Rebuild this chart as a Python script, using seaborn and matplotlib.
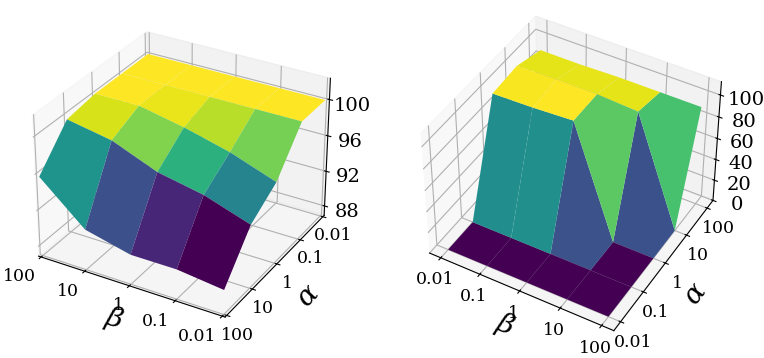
import numpy as np
import matplotlib
matplotlib.use("Agg")
import matplotlib.pyplot as plt
import seaborn as sns

sns.reset_orig()
plt.rcParams['font.family'] = ['DejaVu Serif']
plt.rcParams['mathtext.fontset'] = 'dejavuserif'
cmap = sns.color_palette("viridis", as_cmap=True)

left_beta = ['100', '10', '1', '0.1', '0.01']
left_alpha = ['100', '10', '1', '0.1', '0.01']
left_ticks_z = [88, 92, 96, 100]
left_z = [
    [95.7, 91.4, 90.2, 90.2, 89.6],
    [99.5, 98.6, 96.6, 95.6, 93.9],
    [100.0, 100.0, 99.0, 97.7, 95.9],
    [100.0, 100.0, 100.0, 100.0, 100.0],
    [100.0, 100.0, 100.0, 100.0, 100.0],
]
right_beta = ['0.01', '0.1', '1', '10', '100']
right_alpha = ['0.01', '0.1', '1', '10', '100']
right_ticks_z = [0, 20, 40, 60, 80, 100]
right_z = [
    [0, 0, 0, 0, 0],
    [0, 0, 0, 0, 0],
    [97, 98, 100, 0, 0],
    [99, 100, 100, 98, 0],
    [91, 91, 92, 92, 92],
]

fig = plt.figure(figsize=(7.64, 3.58), dpi=100)


def panel(rect, z, xl, yl, zt, elev, zlim, pads, xha, margin):
    ax = fig.add_axes(rect, projection='3d')
    ax.view_init(elev=elev, azim=-60)
    x, y = np.meshgrid(np.arange(len(xl)), np.arange(len(yl)))
    ax.plot_surface(x, y, np.array(z, dtype=float), cmap=cmap,
                    rstride=1, cstride=1, linewidth=0)
    if margin is not None:
        ax.set_xlim(-margin, 4 + margin)
        ax.set_ylim(-margin, 4 + margin)
    ax.set_xticks(range(len(xl)))
    ax.set_xticklabels(xl, fontsize=12.5, ha=xha)
    ax.set_yticks(range(len(yl)))
    ax.set_yticklabels(yl, fontsize=12.5)
    ax.set_zlim(*zlim)
    ax.set_zticks(zt)
    ax.set_zticklabels([str(v) for v in zt], fontsize=14)
    ax.tick_params(axis='x', pad=pads[0])
    ax.tick_params(axis='y', pad=pads[1])
    ax.tick_params(axis='z', pad=pads[2])
    ax.set_xlabel(r'$\beta$', fontsize=20, labelpad=pads[3])
    ax.set_ylabel(r'$\alpha$', fontsize=20, labelpad=pads[4])
    return ax


W, H = 764, 358
s = 332
panel([(179.5 - s/2)/W, 1 - (172 + s/2)/H, s/W, s/H], left_z, left_beta, left_alpha,
      left_ticks_z, 30, (86.9, 102.3), (-2, -1, 2, -4, 0), 'right', 0.06)
panel([(569 - s/2)/W, 1 - (173 + s/2)/H, s/W, s/H], right_z, right_beta, right_alpha,
      right_ticks_z, 42, (0, 112), (-1, 0, 3, -4, 0), 'center', None)

fig.savefig('out.png', dpi=100)
